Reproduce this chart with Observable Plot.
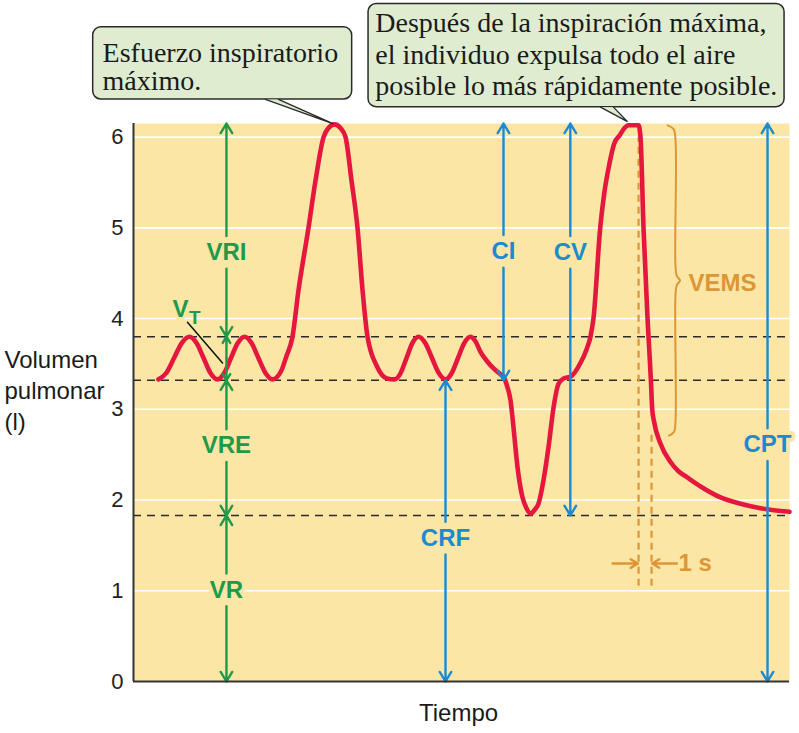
<!DOCTYPE html>
<html><head><meta charset="utf-8">
<script src="https://cdn.jsdelivr.net/npm/d3@7"></script>
<script src="https://cdn.jsdelivr.net/npm/@observablehq/plot@0.6"></script>
<style>body{margin:0;background:#fff}#chart svg{display:block;overflow:visible}</style>
</head><body><div id="chart"></div>
<script>
// ---- Data (time in s, volume in l) ----
const tiempo = [1.92,2.52,3.12,3.71,4.31,4.85,5.39,5.92,6.46,6.98,7.5,8.02,8.54,9.08,9.61,10.15,10.69,11.35,11.75,12.23,12.69,13.46,14.0,14.62,15.0,15.46,15.92,16.31,16.77,17.23,17.62,18.0,18.74,19.5,20.1,20.55,21.0,21.45,21.92,22.44,22.96,23.48,24.0,24.48,24.96,25.44,25.92,26.3,26.7,27.2,27.7,28.2,28.5,28.77,29.0,29.23,29.54,29.92,30.23,30.54,30.85,31.15,31.54,31.92,32.31,32.69,33.08,33.62,34.38,34.85,35.15,35.38,35.9,36.21,36.6,36.98,37.4,37.77,38.08,38.85,39.0,39.23,39.54,39.8,39.9,40.02,40.54,41.31,41.9,42.59,43.62,45.15,46.7,48.23,50.46];
const volumen = [3.33,3.40,3.565,3.73,3.80,3.73,3.565,3.40,3.33,3.40,3.565,3.73,3.80,3.73,3.565,3.40,3.33,3.42,3.58,3.80,4.31,5.00,5.52,6.00,6.10,6.14,6.10,6.00,5.52,5.00,4.31,3.80,3.47,3.34,3.33,3.40,3.565,3.73,3.80,3.73,3.565,3.40,3.33,3.40,3.565,3.73,3.80,3.75,3.63,3.53,3.45,3.39,3.35,3.24,3.10,2.80,2.36,2.03,1.91,1.85,1.89,1.96,2.22,2.58,3.02,3.28,3.34,3.36,3.51,3.66,3.80,4.00,5.00,5.38,5.70,5.93,6.02,6.10,6.13,6.13,6.00,5.00,4.00,3.32,3.00,2.88,2.62,2.42,2.32,2.25,2.15,2.03,1.96,1.91,1.87];

const yTicks = [0,1,2,3,4,5,6];
const niveles = [3.8, 3.32, 1.83];            // dashed reference levels
const capNombres   = ["VRI","VT","VRE","VR","CI","CV","CRF","CPT"];
const capTipo      = ["vol","vol","vol","vol","cap","cap","cap","cap"];
const capTiempo    = [7.15,7.15,7.15,7.15,28.46,33.6,24.0,48.77];
const capDesde     = [3.8,3.32,1.83,0,3.32,1.83,0,0];
const capHasta     = [6.15,3.8,3.32,1.83,6.15,6.15,3.32,6.15];
const capEtiquetaY = [4.73,null,2.60,1.01,4.74,4.73,1.58,2.61];

const vemsDesde = 2.71, vemsHasta = 6.13, vemsTiempo = 41.69;
const intervalo1s = [38.85, 39.85];

const callout1 = ["Esfuerzo inspiratorio", "máximo."];
const callout2 = ["Después de la inspiración máxima,", "el individuo expulsa todo el aire", "posible lo más rápidamente posible."];

// ---- Styles ----
const bg = "#fce6a6", green = "#1f9a4a", blue = "#1b8ad2", orange = "#dd9636", red = "#e5173f", boxFill = "#dfecd0";
const gap = 0.18;

const curve = tiempo.map((t, i) => ({t, v: volumen[i]}));
const caps = capNombres.map((n, i) => ({n, x: capTiempo[i], lo: capDesde[i], hi: capHasta[i], ly: capEtiquetaY[i], c: capTipo[i] === "vol" ? green : blue}));
const segs = caps.flatMap(d => {
  const mid = d.ly ?? (d.lo + d.hi) / 2;
  const g = d.ly == null ? 0 : gap;
  return [{x: d.x, y1: mid + g, y2: d.hi, c: d.c}, {x: d.x, y1: mid - g, y2: d.lo, c: d.c}];
});
const capLabels = caps.filter(d => d.ly != null);

// brace
const tip = (vemsDesde + vemsHasta) / 2;
const bx = vemsTiempo;
const brace = [[bx-0.6, vemsHasta],[bx-0.15, vemsHasta-0.04],[bx, vemsHasta-0.16],[bx, tip+0.16],[bx+0.1, tip+0.05],[bx+0.35, tip],[bx+0.1, tip-0.05],[bx, tip-0.16],[bx, vemsDesde+0.16],[bx-0.12, vemsDesde+0.04],[bx-0.5, vemsDesde]].map(([t, v]) => ({t, v}));

// callouts (in data coordinates)
const box1 = {x1: -3.1, x2: 16.82, y1: 6.415, y2: 7.21};
const box2 = {x1: 18.08, x2: 50.08, y1: 6.33, y2: 7.467};
const ptr1 = [{t: 10.15, v: 6.415}, {t: 15.38, v: 6.145}, {t: 11.15, v: 6.415}];
const ptr2 = [{t: 35.92, v: 6.33}, {t: 38.0, v: 6.17}, {t: 36.92, v: 6.33}];
const txt1 = callout1.map((s, i) => ({s, t: -2.38, v: [6.924, 6.615][i]}));
const txt2 = callout2.map((s, i) => ({s, t: 18.6, v: [7.252, 6.910, 6.568][i]}));

const plot = Plot.plot({
  width: 799, height: 733,
  marginLeft: 133, marginRight: 10, marginTop: 123, marginBottom: 52,
  x: {domain: [0, 50.46], axis: null},
  y: {domain: [0, 6.15]},
  style: {fontFamily: "Liberation Sans, Arial, sans-serif", background: "transparent", color: "#222"},
  marks: [
    Plot.frame({fill: bg, stroke: null}),
    Plot.ruleY(yTicks.filter(d => d > 0), {stroke: "#fff", strokeWidth: 1.6}),
    Plot.ruleY(niveles, {stroke: "#2b2b2b", strokeWidth: 1.6, strokeDasharray: "8,6"}),
    Plot.ruleX([intervalo1s[0]], {y1: 1.05, y2: 6.0, stroke: orange, strokeWidth: 2.2, strokeDasharray: "7,5"}),
    Plot.ruleX([intervalo1s[1]], {y1: 1.05, y2: 2.77, stroke: orange, strokeWidth: 2.2, strokeDasharray: "7,5"}),
    Plot.line(curve, {x: "t", y: "v", stroke: red, strokeWidth: 4.6, curve: "monotone-x"}),
    Plot.line(brace, {x: "t", y: "v", stroke: orange, strokeWidth: 2, curve: "catmull-rom"}),
    Plot.arrow(segs.filter(d => d.c === green), {x1: "x", x2: "x", y1: "y1", y2: "y2", stroke: green, strokeWidth: 2.4, headLength: 7, headAngle: 62}),
    Plot.arrow(segs.filter(d => d.c === blue), {x1: "x", x2: "x", y1: "y1", y2: "y2", stroke: blue, strokeWidth: 2.4, headLength: 7, headAngle: 62}),
    Plot.arrow([{x1: intervalo1s[0] - 2.0, x2: intervalo1s[0] - 0.05, y: 1.30}, {x1: intervalo1s[1] + 1.95, x2: intervalo1s[1] + 0.05, y: 1.30}],
      {x1: "x1", x2: "x2", y1: "y", y2: "y", stroke: orange, strokeWidth: 2.4, headLength: 7, headAngle: 62}),
    Plot.text(capLabels, {x: "x", y: "ly", text: "n", fill: d => d.c, fontWeight: "bold", fontSize: 24, stroke: bg, strokeWidth: 8, paintOrder: "stroke"}),
    Plot.text([{s: "V", t: 3.62, v: 4.10}], {x: "t", y: "v", text: "s", fill: green, fontWeight: "bold", fontSize: 24, stroke: bg, strokeWidth: 6, paintOrder: "stroke"}),
    Plot.text([{s: "T", t: 4.72, v: 4.01}], {x: "t", y: "v", text: "s", fill: green, fontWeight: "bold", fontSize: 19}),
    Plot.line([{t: 4.15, v: 3.96}, {t: 6.85, v: 3.51}], {x: "t", y: "v", stroke: "#111", strokeWidth: 1.5}),
    Plot.text([{s: "VEMS", t: 42.69, v: 4.39}], {x: "t", y: "v", text: "s", fill: orange, fontWeight: "bold", fontSize: 24, textAnchor: "start"}),
    Plot.text([{s: "1 s", t: 41.92, v: 1.30}], {x: "t", y: "v", text: "s", fill: orange, fontWeight: "bold", fontSize: 24, textAnchor: "start"}),
    Plot.ruleX([0], {stroke: "#333", strokeWidth: 2}),
    Plot.ruleY([0], {stroke: "#333", strokeWidth: 2}),
    Plot.axisY({ticks: yTicks, tickSize: 0, tickPadding: 10, fontSize: 22, label: null, tickFormat: d => String(d)}),
    // callouts
    Plot.rect([box1, box2], {x1: "x1", x2: "x2", y1: "y1", y2: "y2", fill: boxFill, stroke: "#2a2a2a", strokeWidth: 1.5, rx: 8}),
    Plot.line(ptr1, {x: "t", y: "v", fill: boxFill, stroke: "#2a2a2a", strokeWidth: 1.3, strokeLinejoin: "miter"}),
    Plot.line(ptr2, {x: "t", y: "v", fill: boxFill, stroke: "#2a2a2a", strokeWidth: 1.3, strokeLinejoin: "miter"}),
    Plot.text(txt1.concat(txt2), {x: "t", y: "v", text: "s", textAnchor: "start", fontFamily: "Liberation Serif, serif", fontSize: 28, fill: "#1a1a1a"}),
    // axis titles
    Plot.text([{y: 3.22, s: "Volumen\npulmonar\n(l)"}], {y: "y", text: "s", frameAnchor: "left", dx: -129, textAnchor: "start", lineHeight: 1.28, fontSize: 24, fill: "#1a1a1a"}),
    Plot.text([{s: "Tiempo"}], {text: "s", frameAnchor: "bottom", dy: 39, dx: -3, fontSize: 24, fill: "#1a1a1a"})
  ]
});
document.getElementById("chart").append(plot);
</script>
</body></html>
